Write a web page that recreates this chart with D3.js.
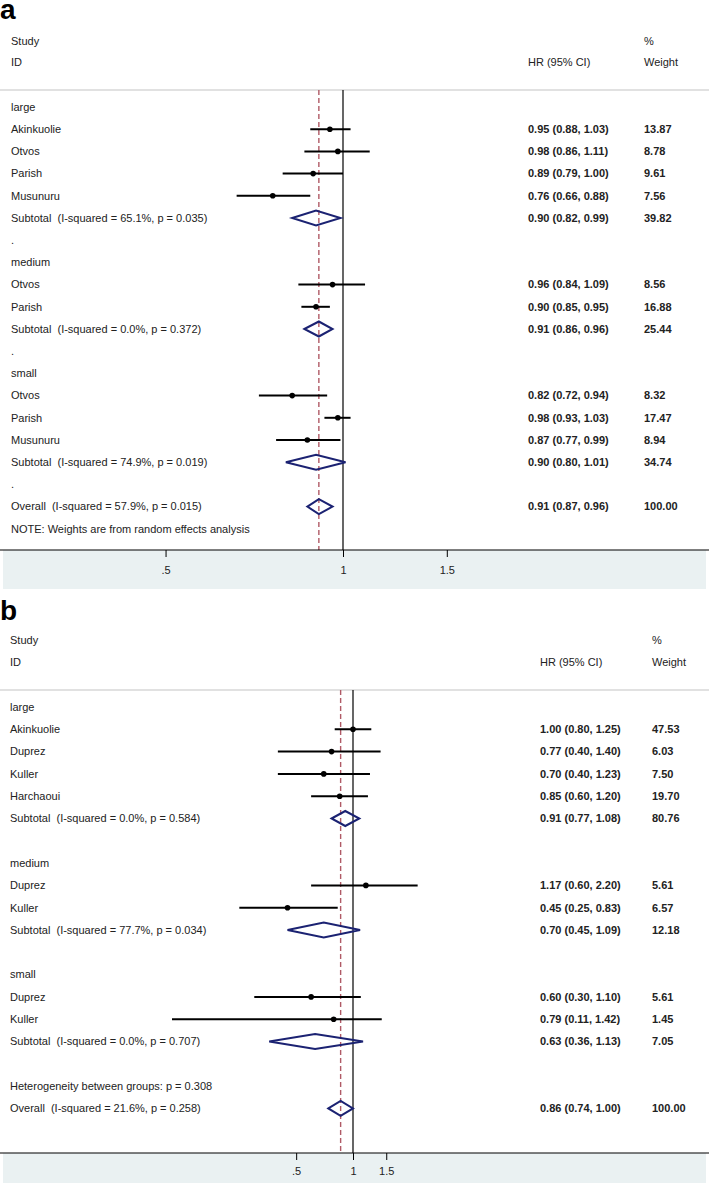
<!DOCTYPE html>
<html>
<head>
<meta charset="utf-8">
<script src="https://cdn.jsdelivr.net/npm/d3@7"></script>
<style>
  body { margin: 0; background: #fff; }
  text { font-family: "Liberation Sans", Arial, sans-serif; }
</style>
</head>
<body>
<div id="chart"></div>
<script>
// ---- panel a data ----
const aLabels = ["large", "Akinkuolie", "Otvos", "Parish", "Musunuru",
  "Subtotal  (I-squared = 65.1%, p = 0.035)", ".",
  "medium", "Otvos", "Parish", "Subtotal  (I-squared = 0.0%, p = 0.372)", ".",
  "small", "Otvos", "Parish", "Musunuru", "Subtotal  (I-squared = 74.9%, p = 0.019)", ".",
  "Overall  (I-squared = 57.9%, p = 0.015)", "NOTE: Weights are from random effects analysis"];
const aKinds = ["h", "s", "s", "s", "s", "d", "h", "h", "s", "s", "d", "h", "h", "s", "s", "s", "d", "h", "d", "h"];
const aHR   = [null, 0.95, 0.98, 0.89, 0.76, 0.90, null, null, 0.96, 0.90, 0.91, null, null, 0.82, 0.98, 0.87, 0.90, null, 0.91, null];
const aLow  = [null, 0.88, 0.86, 0.79, 0.66, 0.82, null, null, 0.84, 0.85, 0.86, null, null, 0.72, 0.93, 0.77, 0.80, null, 0.87, null];
const aHigh = [null, 1.03, 1.11, 1.00, 0.88, 0.99, null, null, 1.09, 0.95, 0.96, null, null, 0.94, 1.03, 0.99, 1.01, null, 0.96, null];
const aWeight = [null, 13.87, 8.78, 9.61, 7.56, 39.82, null, null, 8.56, 16.88, 25.44, null, null, 8.32, 17.47, 8.94, 34.74, null, 100.00, null];
const aOverall = 0.91;

// ---- panel b data ----
const bLabels = ["large", "Akinkuolie", "Duprez", "Kuller", "Harchaoui",
  "Subtotal  (I-squared = 0.0%, p = 0.584)", "",
  "medium", "Duprez", "Kuller", "Subtotal  (I-squared = 77.7%, p = 0.034)", "",
  "small", "Duprez", "Kuller", "Subtotal  (I-squared = 0.0%, p = 0.707)", "",
  "Heterogeneity between groups: p = 0.308", "Overall  (I-squared = 21.6%, p = 0.258)"];
const bKinds = ["h", "s", "s", "s", "s", "d", "h", "h", "s", "s", "d", "h", "h", "s", "s", "d", "h", "h", "d"];
const bHR   = [null, 1.00, 0.77, 0.70, 0.85, 0.91, null, null, 1.17, 0.45, 0.70, null, null, 0.60, 0.79, 0.63, null, null, 0.86];
const bLow  = [null, 0.80, 0.40, 0.40, 0.60, 0.77, null, null, 0.60, 0.25, 0.45, null, null, 0.30, 0.11, 0.36, null, null, 0.74];
const bHigh = [null, 1.25, 1.40, 1.23, 1.20, 1.08, null, null, 2.20, 0.83, 1.09, null, null, 1.10, 1.42, 1.13, null, null, 1.00];
const bWeight = [null, 47.53, 6.03, 7.50, 19.70, 80.76, null, null, 5.61, 6.57, 12.18, null, null, 5.61, 1.45, 7.05, null, null, 100.00];
const bOverall = 0.86;

const tickValues = [0.5, 1, 1.5];
const tickLabels = [".5", "1", "1.5"];

const W = 709, H = 1183;
const svg = d3.select("#chart").append("svg")
  .attr("width", W).attr("height", H);

function drawPanel(cfg) {
  const g = svg.append("g");
  const f = d3.format(".2f");

  // log scale: one = position of HR 1, ppl = pixels per natural-log unit
  const x = d3.scaleLog()
    .domain([0.5, 1.5])
    .range([cfg.one + cfg.ppl * Math.log(0.5), cfg.one + cfg.ppl * Math.log(1.5)]);
  const y = i => cfg.firstRow + i * cfg.step;

  // panel letter
  g.append("text").attr("x", 0).attr("y", cfg.letterY)
    .style("font-size", "28px").style("font-weight", "bold").attr("fill", "#000")
    .text(cfg.letter);

  // headers
  const hdr = (tx, ty, s) => g.append("text").attr("x", tx).attr("y", ty).attr("dy", "0.35em")
    .style("font-size", "11px").attr("fill", "#222").text(s);
  hdr(cfg.labelX, cfg.studyY, "Study");
  hdr(cfg.labelX, cfg.idY, "ID");
  hdr(cfg.hrX, cfg.idY, "HR (95% CI)");
  hdr(cfg.wX, cfg.studyY, "%");
  hdr(cfg.wX, cfg.idY, "Weight");

  // bottom band
  g.append("rect").attr("x", 3).attr("y", cfg.axisY).attr("width", W - 6)
    .attr("height", cfg.bandBottom - cfg.axisY).attr("fill", "#eaf1f2");

  g.append("line").attr("x1", 0).attr("x2", W).attr("y1", cfg.headerLine).attr("y2", cfg.headerLine)
    .attr("stroke", "#c4c4c4").attr("stroke-width", 1.2);

  // no-effect line
  g.append("line").attr("x1", x(1)).attr("x2", x(1)).attr("y1", cfg.headerLine).attr("y2", cfg.axisY)
    .attr("stroke", "#000").attr("stroke-width", 1.2);

  // overall dashed line
  g.append("line").attr("x1", x(cfg.overall)).attr("x2", x(cfg.overall))
    .attr("y1", cfg.headerLine).attr("y2", cfg.axisY)
    .attr("stroke", "#b05a66").attr("stroke-width", 1.4).attr("stroke-dasharray", "5,3");

  const rows = cfg.labels.map((lab, i) => ({
    lab, kind: cfg.kinds[i], hr: cfg.hr[i], lo: cfg.lo[i], hi: cfg.hi[i], w: cfg.w[i], i
  }));

  // row labels
  g.selectAll(".lab").data(rows).join("text")
    .attr("x", cfg.labelX).attr("y", d => y(d.i)).attr("dy", "0.35em")
    .attr("xml:space", "preserve").style("white-space", "pre")
    .style("font-size", "11px").attr("fill", "#222")
    .text(d => d.lab);

  const est = rows.filter(d => d.hr != null);

  g.selectAll(".hrtxt").data(est).join("text")
    .attr("x", cfg.hrX).attr("y", d => y(d.i)).attr("dy", "0.35em")
    .style("font-size", "11px").style("font-weight", "bold").attr("fill", "#222")
    .text(d => `${f(d.hr)} (${f(d.lo)}, ${f(d.hi)})`);

  g.selectAll(".wtxt").data(est).join("text")
    .attr("x", cfg.wX).attr("y", d => y(d.i)).attr("dy", "0.35em")
    .style("font-size", "11px").style("font-weight", "bold").attr("fill", "#222")
    .text(d => f(d.w));

  // study CIs
  const studies = est.filter(d => d.kind === "s");
  g.selectAll(".ci").data(studies).join("line")
    .attr("x1", d => x(d.lo)).attr("x2", d => x(d.hi))
    .attr("y1", d => y(d.i)).attr("y2", d => y(d.i))
    .attr("stroke", "#000").attr("stroke-width", 2);
  g.selectAll(".pt").data(studies).join("circle")
    .attr("cx", d => x(d.hr)).attr("cy", d => y(d.i)).attr("r", 2.8)
    .attr("fill", "#000");

  // pooled diamonds
  const dh = 7.5;
  g.selectAll(".dia").data(est.filter(d => d.kind === "d")).join("path")
    .attr("d", d => `M${x(d.lo)},${y(d.i)}L${x(d.hr)},${y(d.i) - dh}L${x(d.hi)},${y(d.i)}L${x(d.hr)},${y(d.i) + dh}Z`)
    .attr("fill", "none").attr("stroke", "#1b2272").attr("stroke-width", 2);

  // axis
  g.append("line").attr("x1", 0).attr("x2", W).attr("y1", cfg.axisY).attr("y2", cfg.axisY)
    .attr("stroke", "#000").attr("stroke-width", 1.2);
  const axis = d3.axisBottom(x).tickValues(tickValues)
    .tickFormat((d, i) => tickLabels[i]).tickSize(7).tickPadding(cfg.tickPad);
  const ag = g.append("g").attr("transform", `translate(0,${cfg.axisY})`).call(axis);
  ag.select(".domain").remove();
  ag.selectAll("text").style("font-size", "11px").style("font-family", "Liberation Sans, Arial, sans-serif")
    .attr("fill", "#222");
}

drawPanel({
  letter: "a", letterY: 19, studyY: 41, idY: 62, headerLine: 90,
  firstRow: 107, step: 22.2, axisY: 550, bandBottom: 589, tickPad: 9,
  labelX: 11, hrX: 528, wX: 644, one: 343, ppl: 256,
  labels: aLabels, kinds: aKinds, hr: aHR, lo: aLow, hi: aHigh, w: aWeight, overall: aOverall
});

drawPanel({
  letter: "b", letterY: 620, studyY: 640, idY: 662, headerLine: 690,
  firstRow: 707, step: 22.3, axisY: 1153, bandBottom: 1183, tickPad: 7,
  labelX: 10, hrX: 540, wX: 652, one: 353, ppl: 82,
  labels: bLabels, kinds: bKinds, hr: bHR, lo: bLow, hi: bHigh, w: bWeight, overall: bOverall
});
</script>
</body>
</html>
